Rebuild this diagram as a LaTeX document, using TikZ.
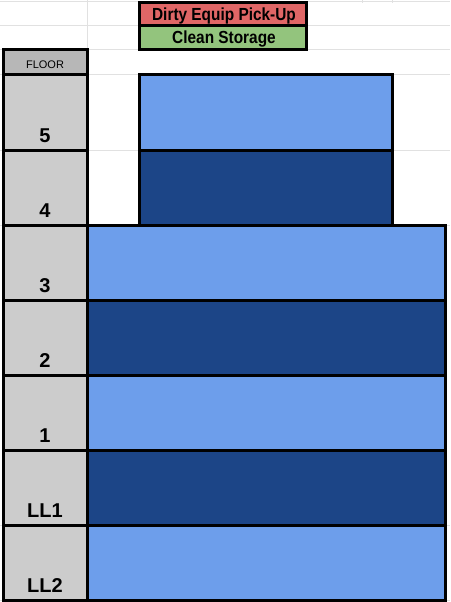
\documentclass[tikz,border=0pt]{standalone}
\usepackage{fontspec}
\setmainfont{Liberation Sans}

\begin{document}
\begin{tikzpicture}[x=1pt, y=-1pt,
    cell/.style={draw=black, line width=3pt},
    floorlabel/.style={anchor=base, font=\fontsize{20}{20}\selectfont\bfseries},
    keylabel/.style={anchor=base, xscale=0.88, font=\fontsize{17.5}{17.5}\selectfont\bfseries},
    gridline/.style={draw=gridcolor, line width=1pt}]
    % Define the colors
    \definecolor{lightfloor}{RGB}{109, 158, 235}
    \definecolor{darkfloor}{RGB}{28, 69, 135}
    \definecolor{dirtycolor}{RGB}{224, 102, 102}
    \definecolor{cleancolor}{RGB}{147, 196, 125}
    \definecolor{floorcolor}{RGB}{204, 204, 204}
    \definecolor{headercolor}{RGB}{183, 183, 183}
    \definecolor{gridcolor}{RGB}{225, 225, 225}

    \useasboundingbox (0,0) rectangle (450,602);

    % Sheet gridlines
    \draw[gridline] (0,2) -- (450,2);
    \draw[gridline] (0,26) -- (450,26);
    \draw[gridline] (0,50) -- (450,50);
    \draw[gridline] (0,74) -- (450,74);
    \draw[gridline] (0,150) -- (450,150);
    \draw[gridline] (0,225) -- (450,225);
    \draw[gridline] (0,525) -- (450,525);
    \draw[gridline] (0,600) -- (450,600);
    \draw[gridline] (87,0) -- (87,50);
    \draw[gridline] (362,0) -- (362,3);
    \draw[gridline] (392,0) -- (392,3);

    % Draw the legend
    \filldraw[cell, fill=dirtycolor] (139,3) rectangle (306,26);
    \node[keylabel] (dirty) at (224,21) {Dirty Equip Pick-Up};
    \filldraw[cell, fill=cleancolor] (139,26) rectangle (306,50);
    \node[keylabel] (clean) at (224,43.5) {Clean Storage};

    % Draw the floor column
    \filldraw[cell, fill=headercolor] (3,50) rectangle (87,74);
    \node[anchor=base, font=\fontsize{11}{11}\selectfont] (floorhead) at (45,68) {FLOOR};
    \filldraw[cell, fill=floorcolor] (3,74) rectangle (87,150);
    \filldraw[cell, fill=floorcolor] (3,150) rectangle (87,225);
    \filldraw[cell, fill=floorcolor] (3,225) rectangle (87,300);
    \filldraw[cell, fill=floorcolor] (3,300) rectangle (87,375);
    \filldraw[cell, fill=floorcolor] (3,375) rectangle (87,450);
    \filldraw[cell, fill=floorcolor] (3,450) rectangle (87,525);
    \filldraw[cell, fill=floorcolor] (3,525) rectangle (87,600);

    % Floor numbers
    \node[floorlabel] (f5) at (45,142) {5};
    \node[floorlabel] (f4) at (45,217) {4};
    \node[floorlabel] (f3) at (45,292) {3};
    \node[floorlabel] (f2) at (45,367) {2};
    \node[floorlabel] (f1) at (45,442) {1};
    \node[floorlabel] (fll1) at (45,517) {LL1};
    \node[floorlabel] (fll2) at (45,592) {LL2};

    % Draw the upper floors
    \filldraw[cell, fill=lightfloor] (139,74) rectangle (392,150);
    \filldraw[cell, fill=darkfloor] (139,150) rectangle (392,225);

    % Draw the lower floors
    \filldraw[cell, fill=lightfloor] (87,225) rectangle (445,300);
    \filldraw[cell, fill=darkfloor] (87,300) rectangle (445,375);
    \filldraw[cell, fill=lightfloor] (87,375) rectangle (445,450);
    \filldraw[cell, fill=darkfloor] (87,450) rectangle (445,525);
    \filldraw[cell, fill=lightfloor] (87,525) rectangle (445,600);

\end{tikzpicture}
\end{document}
